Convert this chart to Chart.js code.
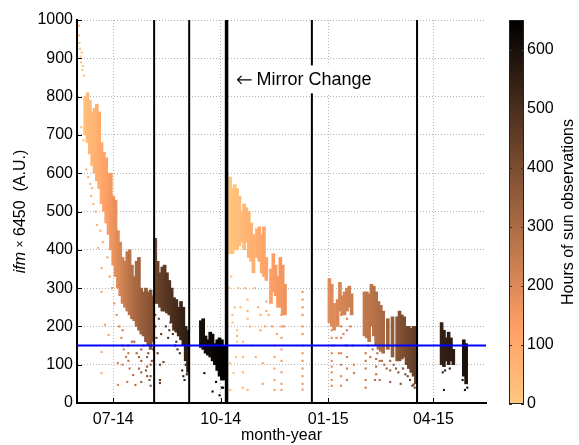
<!DOCTYPE html>
<html lang="en">
<head>
<meta charset="UTF-8">
<title>ifm vs time</title>
<script src="https://cdn.jsdelivr.net/npm/chart.js@4.4.1/dist/chart.umd.min.js"></script>
<style>
  body { margin: 0; background: #fff; }
</style>
</head>
<body>
<canvas id="c" width="579" height="445"></canvas>
<script>
// days counted from 2014-01-01 (day 0)
var tickDays = [181, 273, 365, 455];
var tickLabels = ['07-14', '10-14', '01-15', '04-15'];

// dense bands of points for each observing day: [low, high] and accumulated sun hours
var bandDay = [157,159,161,163,165,167,169,171,173,175,177,179,181,183,185,187,189,191,193,195,197,199,201,203,205,207,209,211,213,215,
  217,219,221,223,225,227,229,231,233,235,237,239,241,243,245,
  256,258,260,262,264,266,268,270,272,274,276,
  279,281,283,285,287,289,291,293,295,297,299,301,304,306,308,310,312,316,318,320,322,324,326,328,
  366,368,370,373,375,377,379,381,383,385,396,398,400,402,404,406,408,410,412,416,420,424,426,428,430,432,434,436,438,440,
  462,464,466,468,470,472,481,483];
var bandLow = [700,680,650,620,600,580,560,520,500,470,440,400,360,330,300,280,260,250,240,230,220,215,200,190,180,175,160,150,140,160,
  260,260,250,240,240,235,230,210,190,185,175,165,150,110,80,
  145,140,130,125,120,110,100,85,70,60,60,
  400,390,390,400,400,410,420,400,420,380,370,340,380,370,340,330,320,260,290,280,250,250,230,230,
  210,200,190,200,240,230,230,240,250,230,175,170,160,200,175,150,140,135,130,140,120,110,110,115,120,100,90,80,70,50,
  100,95,110,100,110,100,70,50];
var bandHigh = [800,810,790,760,770,780,760,680,655,640,600,600,540,530,450,420,380,370,395,400,360,330,370,380,300,290,300,290,295,280,
  430,370,340,355,360,340,320,300,275,270,250,265,250,200,190,
  215,220,175,165,185,180,155,165,170,165,150,
  540,590,560,570,560,540,500,520,510,500,470,440,455,460,440,460,380,350,390,360,330,380,360,310,
  325,310,260,270,315,280,290,300,305,285,290,290,285,310,305,290,265,255,240,220,225,225,240,230,225,200,200,195,200,200,
  210,190,170,185,170,140,165,155];
var bandHours = [25,35,45,55,65,75,90,100,115,125,140,150,165,180,195,210,225,240,255,270,285,300,310,320,335,345,355,365,375,385,
  420,430,440,450,460,470,480,490,500,510,520,530,540,550,560,
  600,605,610,615,620,625,630,635,640,645,650,
  5,10,15,20,28,35,42,50,58,65,72,80,90,98,105,112,118,128,134,140,146,152,158,164,
  190,195,200,205,210,215,220,225,230,235,255,260,265,270,278,285,292,300,310,325,345,370,380,390,400,410,420,430,440,450,
  540,545,550,555,560,565,590,595];

// isolated points outside the bands
var looseDay = [151.8,151.8,152,152.5,153,153.5,154,154.5,155,156,153.6,155.6,159.6,161.3,162.8,167,168,171,171,174,171,171,177,185,185,189,189,189,193,194,194,194,198,200,199,203,205,205,205,205,210,210,210,213,213,213,
  158,162,164,166,170,172,176,178,180,182,184,186,188,190,192,195,197,201,203,207,209,211,212,214,215,
  217,217,218,219,221,221,221,224,229,230,235,240,241,242,243,244,
  220,222,226,228,232,234,236,238,244,
  259,266,269,272,274,275,
  283,283,281,281,284,287,287,287,292,292,292,292,296,296,296,296,307,307,309,309,312,312,319,319,319,319,319,325,325,325,325,325,325,325,325,323,
  280,282,285,286,288,290,294,298,300,302,303,305,311,314,317,321,327,
  343,343,343,343,343,343,343,343,343,343,343,343,343,
  368,368,368,368,368,368,368,368,368,376,376,376,376,376,376,376,381,381,381,381,381,381,387,387,397,397,397,397,397,406,406,406,409,409,418,418,418,427,438,439,
  367,370,372,374,378,380,384,386,399,401,403,405,407,411,413,415,421,423,425,429,431,433,435,437,
  464,482,463,465,469,480,484];
var looseVal = [985,960,940,925,905,890,915,870,880,855,720,686,590,572,561,465,405,352,290,204,133,78,178,104,47,190,150,100,55,150,130,110,73,47,160,120,140,110,80,55,120,95,70,100,70,45,
  610,540,520,500,450,420,380,330,300,260,230,200,170,140,120,90,160,130,90,150,85,130,60,110,140,
  230,200,170,130,60,52,100,107,190,210,160,85,70,60,100,75,
  220,180,200,170,180,150,140,130,130,
  78,30,55,20,40,40,
  230,210,104,34,78,190,175,160,160,120,80,40,270,240,220,34,230,190,104,50,265,240,150,120,90,60,34,230,200,170,140,110,80,50,34,265,
  300,330,250,120,300,250,300,200,150,300,120,250,200,230,200,180,200,
  290,270,250,230,200,180,150,130,110,90,70,50,35,
  190,170,150,130,110,95,80,60,45,230,200,170,130,100,70,45,220,190,150,120,90,60,100,78,130,110,90,60,40,115,95,75,110,60,110,85,55,50,48,40,
  240,150,170,130,180,150,200,150,150,120,140,60,130,110,100,90,100,90,80,90,75,70,60,45,
  34,34,80,85,90,60,40];

var cleanDays = [216, 246, 351, 441];
var mirrorDay = 278;
var threshold = 150;
var hoursMax = 650;

// flipped copper colormap
function copper(h) {
  var t = 1 - Math.max(0, Math.min(1, h / hoursMax));
  var r = Math.min(1, 1.25 * t), g = 0.7812 * t, b = 0.4975 * t;
  return 'rgb(' + Math.round(r * 255) + ',' + Math.round(g * 255) + ',' + Math.round(b * 255) + ')';
}
function hoursAt(d) {
  var best = 0;
  for (var i = 1; i < bandDay.length; i++) {
    if (Math.abs(bandDay[i] - d) < Math.abs(bandDay[best] - d)) best = i;
  }
  return bandHours[best];
}

var FONT = '"Liberation Sans", Arial, Helvetica, sans-serif';

var datasets = [];
datasets.push({
  type: 'bar',
  data: bandDay.map(function (d, i) { return { x: d, y: [bandLow[i], bandHigh[i]] }; }),
  backgroundColor: function (ctx) { return copper(bandHours[ctx.dataIndex]); },
  borderWidth: 0,
  barThickness: 3,
  order: 5
});
datasets.push({
  type: 'scatter',
  data: looseDay.map(function (d, i) { return { x: d, y: looseVal[i] }; }),
  pointStyle: 'rect',
  pointRadius: 1.5,
  pointBorderWidth: 0,
  pointBackgroundColor: function (ctx) { return copper(hoursAt(looseDay[ctx.dataIndex])); },
  order: 4
});
cleanDays.forEach(function (d) {
  datasets.push({
    type: 'line',
    data: [{ x: d, y: 0 }, { x: d, y: 1000 }],
    borderColor: '#000', borderWidth: 2, pointRadius: 0, order: 2
  });
});
datasets.push({
  type: 'line',
  data: [{ x: mirrorDay, y: 0 }, { x: mirrorDay, y: 1000 }],
  borderColor: '#000', borderWidth: 3.5, pointRadius: 0, order: 2
});
datasets.push({
  type: 'line',
  data: [{ x: 150, y: threshold }, { x: 500, y: threshold }],
  borderColor: '#0000ff', borderWidth: 2, pointRadius: 0, order: 1
});

var extras = {
  id: 'extras',
  afterDatasetsDraw: function (chart) {
    var c = chart.ctx, xs = chart.scales.x, ys = chart.scales.y;
    c.save();
    c.font = '18px ' + FONT;
    var txt = 'Mirror Change';
    var x = xs.getPixelForValue(mirrorDay) + 10, y = ys.getPixelForValue(845);
    var w = c.measureText(txt).width;
    c.fillStyle = '#fff';
    c.fillRect(x - 2, y - 14, w + 28, 28);
    // arrow
    c.strokeStyle = '#000';
    c.lineWidth = 1.2;
    c.beginPath();
    c.moveTo(x + 1, y + 0.5); c.lineTo(x + 15, y + 0.5);
    c.moveTo(x + 5, y - 3.5); c.lineTo(x + 1, y + 0.5); c.lineTo(x + 5, y + 4.5);
    c.stroke();
    c.fillStyle = '#000';
    c.textBaseline = 'middle';
    c.fillText(txt, x + 20, y + 1);
    c.restore();
  },
  afterDraw: function (chart) {
    var c = chart.ctx, a = chart.chartArea, xs = chart.scales.x, ys = chart.scales.y;
    c.save();
    // inward ticks
    c.strokeStyle = '#000';
    c.lineWidth = 1;
    c.beginPath();
    for (var v = 0; v <= 1000; v += 100) {
      var py = Math.round(ys.getPixelForValue(v)) + 0.5;
      c.moveTo(a.left, py); c.lineTo(a.left + 5, py);
    }
    tickDays.forEach(function (d) {
      var px = Math.round(xs.getPixelForValue(d)) + 0.5;
      c.moveTo(px, a.bottom); c.lineTo(px, a.bottom - 5);
    });
    c.stroke();

    // y title with italic part
    c.fillStyle = '#000';
    c.translate(21, (a.top + a.bottom) / 2);
    c.rotate(-Math.PI / 2);
    var parts = [['italic 16px ' + FONT, 'ifm '], ['12px ' + FONT, '\u00d7'], ['16px ' + FONT, ' 6450  (A.U.)']];
    var total = 0;
    parts.forEach(function (p) { c.font = p[0]; total += c.measureText(p[1]).width; });
    var cx = -total / 2;
    c.textBaseline = 'middle';
    parts.forEach(function (p) { c.font = p[0]; c.fillText(p[1], cx, 0); cx += c.measureText(p[1]).width; });
    c.setTransform(1, 0, 0, 1, 0, 0);

    // x title
    c.font = '16px ' + FONT;
    c.textAlign = 'center';
    c.textBaseline = 'middle';
    c.fillText('month-year', (a.left + a.right) / 2, 436);

    // colorbar
    var bx = 509, bw = 15, top = a.top, bot = a.bottom + 1;
    var grad = c.createLinearGradient(0, bot, 0, top);
    for (var s = 0; s <= 10; s++) grad.addColorStop(s / 10, copper(hoursMax * s / 10));
    c.fillStyle = grad;
    c.fillRect(bx, top, bw, bot - top);
    c.strokeStyle = '#222';
    c.lineWidth = 1;
    c.strokeRect(bx + 0.5, top + 0.5, bw - 1, bot - top - 1);
    c.fillStyle = '#000';
    c.textAlign = 'left';
    c.beginPath();
    for (var h = 0; h <= 600; h += 100) {
      var hy = bot - (bot - top) * h / hoursMax;
      c.moveTo(bx, Math.round(hy) + 0.5); c.lineTo(bx + 3, Math.round(hy) + 0.5);
      c.moveTo(bx + bw, Math.round(hy) + 0.5); c.lineTo(bx + bw - 3, Math.round(hy) + 0.5);
      c.fillText(String(h), bx + bw + 3, hy);
    }
    c.strokeStyle = '#333';
    c.stroke();
    c.translate(569, (top + bot) / 2);
    c.rotate(-Math.PI / 2);
    c.textAlign = 'center';
    c.fillText('Hours of sun observations', 0, 0);
    c.restore();
  }
};

new Chart(document.getElementById('c'), {
  type: 'bar',
  data: { datasets: datasets },
  options: {
    responsive: false,
    animation: false,
    layout: { padding: { top: 20, right: 93, left: 0, bottom: 0 } },
    plugins: { legend: { display: false }, tooltip: { enabled: false } },
    scales: {
      x: {
        type: 'linear', min: 150, max: 500, offset: false,
        afterBuildTicks: function (s) { s.ticks = tickDays.map(function (d) { return { value: d }; }); },
        afterFit: function (s) { s.height = 42; },
        ticks: {
          padding: 7, color: '#000', font: { size: 16, family: FONT }, maxRotation: 0,
          callback: function (v) { return tickLabels[tickDays.indexOf(v)]; }
        },
        grid: { color: '#b4b4b4', lineWidth: 1, drawTicks: false, offset: false },
        border: { color: '#000', width: 2, dash: [1, 2] }
      },
      y: {
        min: 0, max: 1000,
        afterFit: function (s) { s.width = 77; },
        ticks: {
          stepSize: 100, padding: 4, color: '#000', font: { size: 16, family: FONT },
          callback: function (v) { return String(v); }
        },
        grid: { color: '#b4b4b4', lineWidth: 1, drawTicks: false },
        border: { color: '#000', width: 2, dash: [1, 2] }
      }
    }
  },
  plugins: [extras]
});
</script>
</body>
</html>
